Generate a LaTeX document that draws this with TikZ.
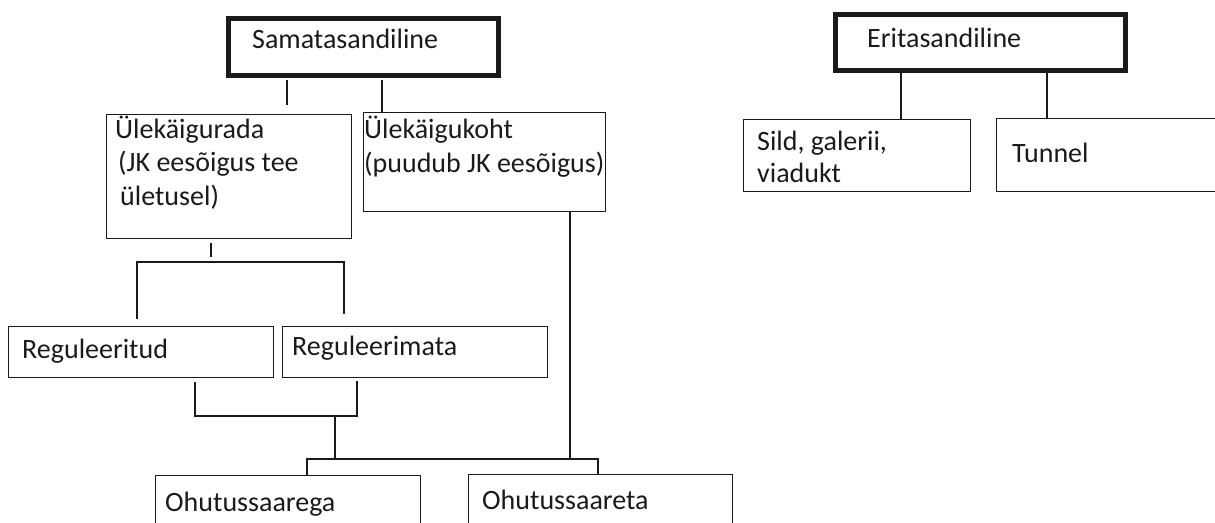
\documentclass[tikz,border=0pt]{standalone}
\usepackage{fontspec}
\setmainfont{Carlito}
\usetikzlibrary{calc}

\definecolor{ink}{HTML}{1A1A1A}

\tikzset{
  box/.style={draw=ink, line width=1.4pt, inner sep=0pt, anchor=north west},
  headbox/.style={box, line width=5pt},
  lbl/.style={anchor=base west, inner sep=0pt, align=left, text=ink,
    font=\fontsize{28}{33.5}\selectfont},
  conn/.style={draw=ink, line width=1.5pt},
}

\begin{document}
\begin{tikzpicture}[x=1pt, y=-1pt]
  \clip (0,0) rectangle (1215,522);

  % Define boxes
  \node[headbox, minimum width=270pt, minimum height=57pt] (sama)   at (226,16)  {};
  \node[headbox, minimum width=290pt, minimum height=56pt] (erit)   at (833,12)  {};
  \node[box, minimum width=245pt, minimum height=124pt]    (urada)  at (106,114) {};
  \node[box, minimum width=242pt, minimum height=99pt]     (koht)   at (363,112) {};
  \node[box, minimum width=265pt, minimum height=51pt]     (regt)   at (8,326)   {};
  \node[box, minimum width=265pt, minimum height=51pt]     (regm)   at (282,326) {};
  \node[box, minimum width=265pt, minimum height=95pt]     (oga)    at (155,475) {};
  \node[box, minimum width=264pt, minimum height=95pt]     (ota)    at (468,474) {};
  \node[box, minimum width=227pt, minimum height=72pt]     (sild)   at (743,119) {};
  \node[box, minimum width=244pt, minimum height=73pt]     (tunnel) at (996,118) {};

  % Labels (multi-line ones sit on their last baseline)
  \node[lbl] (samatxt)   at (252,48)  {Samatasandiline};
  \node[lbl] (erittxt)   at (867,47)  {Eritasandiline};
  \node[lbl] (uradatxt)  at (115,205) {Ülekäigurada\\\hspace*{3pt}(JK eesõigus tee\\\hspace*{5pt}ületusel)};
  \node[lbl] (kohttxt)   at (364,172) {Ülekäigukoht\\(puudub JK eesõigus)};
  \node[lbl] (regttxt)   at (22,358)  {Reguleeritud};
  \node[lbl] (regmtxt)   at (292,355) {Reguleerimata};
  \node[lbl] (ogatxt)    at (165,511) {Ohutussaarega};
  \node[lbl] (otatxt)    at (482,509) {Ohutussaareta};
  \node[lbl, font=\fontsize{28}{32}\selectfont] (sildtxt) at (757,182) {Sild, galerii,\\viadukt};
  \node[lbl] (tunneltxt) at (1012,162) {Tunnel};

  % Junction points
  \coordinate (j1) at (287,80);
  \coordinate (j2) at (287,105);
  \coordinate (j3) at (382,80);
  \coordinate (j4) at (211,243);
  \coordinate (j5) at (211,257);
  \coordinate (j6) at (137,319);
  \coordinate (j7) at (344,314);
  \coordinate (j8) at (195,382);
  \coordinate (j9) at (357,381);
  \coordinate (mid) at (335,416);
  \coordinate (bus) at (335,459);

  % Connect the boxes
  \draw[conn] (j1) -- (j2);
  \draw[conn] (j3) -- (j3 |- koht.north);
  \draw[conn] (j4) -- (j5);
  \draw[conn] (j6) |- (137,262) -| (j7);
  \draw[conn] (j8) |- (358,416);
  \draw[conn] (j9) -- (j9 |- mid);
  \draw[conn] (mid) -- (bus);
  \draw[conn] (570,0 |- koht.south) -- (570,459);
  \draw[conn] (307,0 |- oga.north) |- (598,459) -- (598,0 |- ota.north);
  \draw[conn] (901,0 |- erit.south) -- (901,0 |- sild.north);
  \draw[conn] (1047,0 |- erit.south) -- (1047,0 |- tunnel.north);
\end{tikzpicture}
\end{document}
